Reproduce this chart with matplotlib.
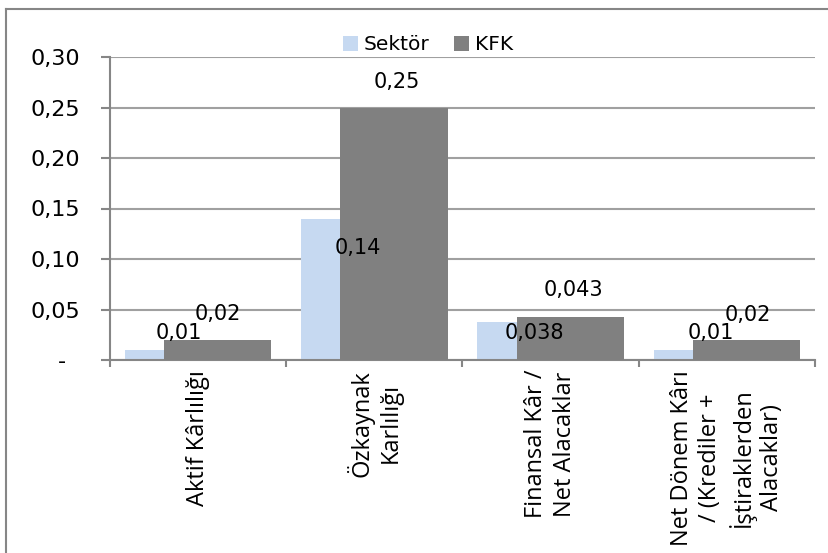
import numpy as np
import matplotlib
matplotlib.use('Agg')
import matplotlib.pyplot as plt
from matplotlib.lines import Line2D

plt.rcParams['font.family'] = ['DejaVu Sans']

categories = ['Aktif Kârlılığı', 'Özkaynak\nKarlılığı', 'Finansal Kâr /\nNet Alacaklar',
              'Net Dönem Kârı\n/ (Krediler +\nİştiraklerden\nAlacaklar)']
sektor = [0.01, 0.14, 0.038, 0.01]
kfk = [0.02, 0.25, 0.043, 0.02]
yticks = [0, 0.05, 0.10, 0.15, 0.20, 0.25, 0.30]
ytick_labels = ['-  ', '0,05', '0,10', '0,15', '0,20', '0,25', '0,30']

# hand-placed label offsets (pixels above the bar top), as in the original
sek_off = [(0, 17), (3, -29), (3, -11), (4, 17)]
kfk_off = [(0, 26), (3, 26), (3, 27), (1, 25)]

c_sek = '#c6d9f1'
c_kfk = '#808080'
c_axis = '#868686'
px = 0.72  # points per pixel at dpi 100

fig = plt.figure(figsize=(8.29, 5.53), dpi=100)
ax = fig.add_axes([110/829, 1-360/553, 705/829, 303/553])

x = np.arange(len(categories))
w = 0.608
off = 0.111
ax.bar(x - off, sektor, w, color=c_sek, label='Sektör', zorder=2)
ax.bar(x + off, kfk, w, color=c_kfk, label='KFK', zorder=3)

for i in range(len(x)):
    ax.annotate(str(sektor[i]).replace('.', ','), (x[i] - off, sektor[i]),
                xytext=(sek_off[i][0]*px, sek_off[i][1]*px), textcoords='offset points',
                ha='center', va='center', fontsize=15, zorder=5)
    ax.annotate(str(kfk[i]).replace('.', ','), (x[i] + off, kfk[i]),
                xytext=(kfk_off[i][0]*px, kfk_off[i][1]*px), textcoords='offset points',
                ha='center', va='center', fontsize=15, zorder=5)

ax.set_xlim(-0.5, 3.5)
ax.set_ylim(0, 0.30)
ax.set_yticks(yticks)
ax.set_yticklabels(ytick_labels, fontsize=16)
ax.yaxis.grid(True, color='#a0a0a0', lw=1.5)
ax.set_axisbelow(True)

ax.set_xticks(np.arange(-0.5, 4, 1))
ax.set_xticklabels([''] * 5)
ax.set_xticks(x, minor=True)
ax.set_xticklabels(categories, minor=True, rotation=90, fontsize=17, family='Open Sans',
                   ha='center', va='top', multialignment='center', linespacing=1.25)
ax.tick_params(axis='x', which='major', length=7*px, width=1.5, color=c_axis, direction='out')
ax.tick_params(axis='x', which='minor', length=0, pad=10*px)
ax.tick_params(axis='y', length=9*px, width=1.5, color=c_axis, pad=21*px)

for s in ['top', 'right']:
    ax.spines[s].set_visible(False)
for s in ['left', 'bottom']:
    ax.spines[s].set_color(c_axis)
    ax.spines[s].set_linewidth(1.5)

ax.legend(loc='center', bbox_to_anchor=(428/829, 1-45/553), bbox_transform=fig.transFigure,
          ncol=2, frameon=False, fontsize=14.5, handlelength=0.75, handleheight=0.75,
          handletextpad=0.3, columnspacing=1.2, borderpad=0)

# outer chart border (only left and top edges show in the crop)
bx, by = 6.5/829, 1 - 8.5/553
fig.add_artist(Line2D([bx, bx], [0, by], transform=fig.transFigure, color=c_axis, lw=1.5))
fig.add_artist(Line2D([bx, 1], [by, by], transform=fig.transFigure, color=c_axis, lw=1.5))

fig.savefig('out.png', dpi=100)
